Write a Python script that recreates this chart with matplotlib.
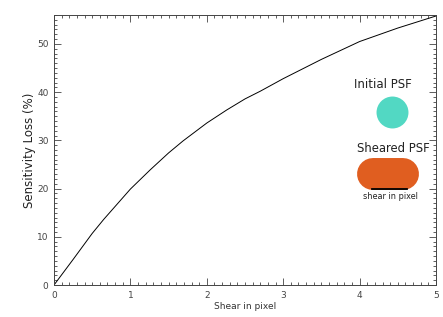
import matplotlib
matplotlib.use('Agg')
import matplotlib.pyplot as plt
from matplotlib.ticker import MultipleLocator

shear = [0.0, 0.25, 0.5, 0.65, 1.0, 1.26, 1.5, 1.69, 2.0, 2.26, 2.5, 2.7, 3.0, 3.2, 3.5, 4.0, 4.5, 5.0]
loss = [0.0, 5.3, 10.7, 13.6, 19.9, 23.9, 27.4, 29.9, 33.6, 36.3, 38.6, 40.2, 42.8, 44.4, 46.8, 50.5, 53.3, 55.8]

fig = plt.figure(figsize=(4.43, 3.17), dpi=100)
ax = fig.add_axes([0.1219, 0.1009, 0.8623, 0.8517])

ax.plot(shear, loss, color='black', lw=0.7)

# PSF sketches
ax.plot([4.424], [35.95], 'o', color='#52d8c3', markersize=23, markeredgewidth=0)
ax.plot([4.172, 4.572], [23.03, 23.03], color='#e05e20', lw=23, solid_capstyle='round')
ax.plot([4.158, 4.616], [20.0, 20.0], color='black', lw=1.3)
ax.text(4.306, 41.5, 'Initial PSF', ha='center', va='center', fontsize=8.5, color='#222')
ax.text(4.437, 28.3, 'Sheared PSF', ha='center', va='center', fontsize=8.4, color='#222')
ax.text(4.404, 18.3, 'shear in pixel', ha='center', va='center', fontsize=5.9, color='#222')

ax.set_xlim(0, 5)
ax.set_ylim(0, 56)
ax.xaxis.set_major_locator(MultipleLocator(1))
ax.xaxis.set_minor_locator(MultipleLocator(0.1))
ax.yaxis.set_major_locator(MultipleLocator(10))
ax.yaxis.set_minor_locator(MultipleLocator(1))
ax.tick_params(which='both', direction='in', top=True, right=True, colors='#444', labelsize=6.5, width=0.6)
ax.tick_params(which='major', length=5, pad=4)
ax.tick_params(which='minor', length=2.5)
for s in ax.spines.values():
    s.set_color('#444')
    s.set_linewidth(0.7)

ax.set_xlabel('Shear in pixel', fontsize=6.5, color='#333', labelpad=2)
ax.set_ylabel('Sensitivity Loss (%)', fontsize=8.5, color='#222', labelpad=1)

fig.savefig('out.png', dpi=100)
